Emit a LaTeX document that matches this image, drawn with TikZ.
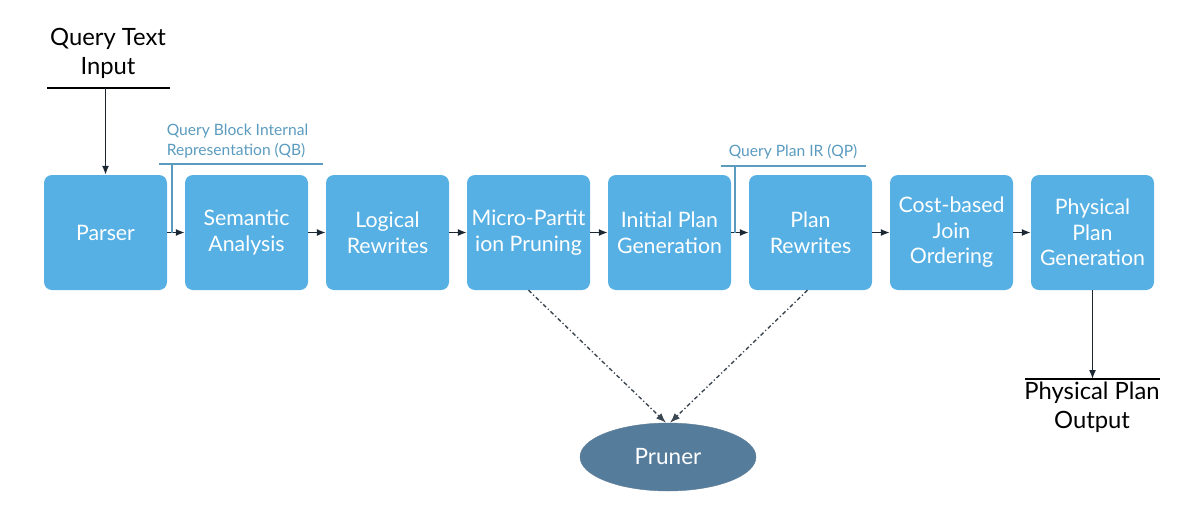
\documentclass[tikz,border=0pt]{standalone}
\usepackage{fontspec}
\setmainfont{Lato}
\usetikzlibrary{arrows.meta,shapes.geometric,calc}
\definecolor{boxblue}{HTML}{56B0E4}
\definecolor{lblblue}{HTML}{5A9BBF}
\definecolor{arrowdark}{HTML}{1B2733}
\definecolor{prunerblue}{HTML}{567C9C}
\begin{document}
\begin{tikzpicture}[x=1pt,y=-1pt,
  box/.style={fill=boxblue, rounded corners=8pt, minimum width=123pt, minimum height=115pt,
    text=white, font=\fontsize{21.3}{25.5}\selectfont, align=center, inner sep=0pt},
  flow/.style={draw=arrowdark, line width=1.4pt, -{Latex[length=9pt,width=7pt]}},
  dd/.style={draw=arrowdark!85, line width=1.4pt, dash pattern=on 4pt off 2.5pt on 1.2pt off 2.5pt,
    -{Latex[length=10pt,width=7.5pt]}},
  bracket/.style={draw=lblblue, line width=1.3pt},
  lbl/.style={text=lblblue, font=\fontsize{15.6}{19.5}\selectfont, align=left, inner sep=0pt},
  io/.style={text=black, font=\fontsize{23.8}{29}\selectfont, align=center, inner sep=0pt},
  iolinestyle/.style={draw=black, line width=1.3pt}]
\useasboundingbox (0,0) rectangle (1200,517);

\node[box] (p) at (105.5,232.5) {Parser};
\node[box] (s) at (246.5,232.5) {Semantic\\Analysis};
\node[box] (l) at (387.5,232.5) {Logical\\Rewrites};
\node[box] (m) at (528.5,232.5) {Micro-Partit\\ion Pruning};
\node[box] (i) at (669.5,232.5) {Initial Plan\\Generation};
\node[box] (r) at (810.5,232.5) {Plan\\Rewrites};
\node[box] (c) at (951.5,232.5) {Cost-based\\Join\\Ordering};
\node[box] (g) at (1092.5,232.5) {Physical\\Plan\\Generation};

\draw[flow] (p) -- (s);
\draw[flow] (s) -- (l);
\draw[flow] (l) -- (m);
\draw[flow] (m) -- (i);
\draw[flow] (i) -- (r);
\draw[flow] (r) -- (c);
\draw[flow] (c) -- (g);

% Query text input
\node[io] (qin) at (108,53) {Query Text\\Input};
\coordinate (qinL) at (47,88);
\coordinate (qinR) at (170,88);
\coordinate (qinA) at (105.5,88);
\draw[iolinestyle] (qinL) -- (qinR);
\draw[flow] (qinA) -- (p.north);

% QB label
\node[lbl] (qb) at (237.5,141) {Query Block Internal\\Representation (QB)};
\coordinate (qbL) at (159,164);
\coordinate (qbR) at (323,164);
\coordinate (qbT) at (172,164);
\coordinate (qbB) at (172,232.5);
\draw[bracket] (qbL) -- (qbR);
\draw[bracket] (qbT) -- (qbB);

% QP label
\node[lbl] (qp) at (793,152) {Query Plan IR (QP)};
\coordinate (qpL) at (721,166);
\coordinate (qpR) at (866,166);
\coordinate (qpT) at (735,166);
\coordinate (qpB) at (735,232.5);
\draw[bracket] (qpL) -- (qpR);
\draw[bracket] (qpT) -- (qpB);

% Output
\coordinate (outL) at (1025,379);
\coordinate (outR) at (1160,379);
\coordinate (outA) at (1092.5,379);
\draw[iolinestyle] (outL) -- (outR);
\draw[flow] (g.south) -- (outA);
\node[io] (out) at (1092,407) {Physical Plan\\Output};

% Pruner
\node[ellipse, fill=prunerblue, draw=prunerblue!80!gray, minimum width=176pt, minimum height=68pt,
  text=white, font=\fontsize{22.5}{26}\selectfont, inner sep=0pt] (pr) at (668,457) {Pruner};
\draw[dd] (m.south) -- ($(pr.north)+(-2,0)$);
\draw[dd] ($(r.south)+(-3,0)$) -- ($(pr.north)+(2,0)$);
\end{tikzpicture}
\end{document}
